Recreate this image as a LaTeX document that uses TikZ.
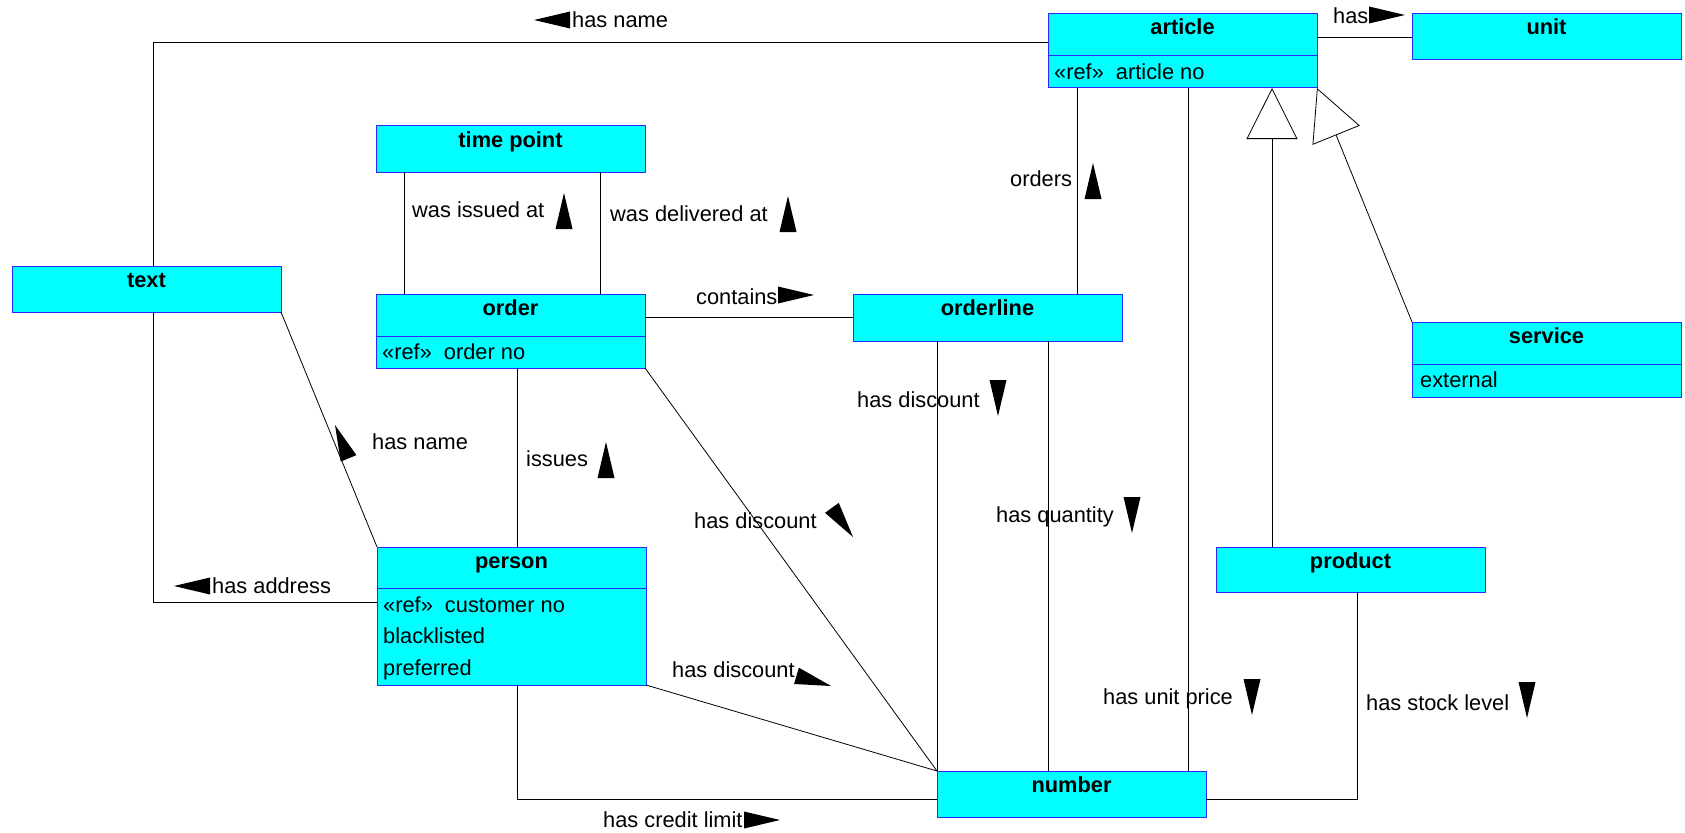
\documentclass[tikz,border=0pt]{standalone}
\usepackage{fontspec}
\setmainfont{Liberation Sans}
\usetikzlibrary{arrows.meta,calc}
\definecolor{boxfill}{RGB}{0,255,255}
\definecolor{boxline}{RGB}{40,40,255}
\newcommand\labarrow[3]{\fill[black,shift={(#1,#2)},rotate=#3] (0,0) -- (-36,8.5) -- (-36,-8.5) -- cycle;}
\begin{document}
\begin{tikzpicture}[x=1pt,y=-1pt,
  font=\fontsize{21.8}{26}\selectfont,
  box/.style={draw=boxline, fill=boxfill, line width=1pt, minimum width=269pt, inner sep=0pt, outer sep=0pt, anchor=north west},
  ttl/.style={font=\fontsize{21.8}{26}\selectfont\bfseries, anchor=base, inner sep=0pt},
  attr/.style={anchor=base west, inner sep=0pt},
  lbl/.style={anchor=west, inner sep=0pt},
  conn/.style={line width=0.8pt, draw=black},
  gen/.style={conn, -{Triangle[open, length=51pt, width=51pt, line width=0.8pt]}}]
\useasboundingbox (0,0) rectangle (1685,832);
\fill[white] (0,0) rectangle (1685,832);

% classes
\node[box, minimum height=46pt] (text) at (12,266) {};
\node[ttl] (textT) at ([yshift=-21pt]text.north) {text};

\node[box, minimum height=46pt] (tp) at (376,126) {};
\node[ttl] (tpT) at ([yshift=-21pt]tp.north) {time point};

\node[box, minimum height=42pt] (orderH) at (376,294) {};
\node[ttl] (orderT) at ([yshift=-21pt]orderH.north) {order};
\node[box, minimum height=32pt] (orderA) at (orderH.south west) {};
\node[attr] (orderA1) at ([xshift=6pt,yshift=-23.5pt]orderA.north west) {«ref»\ \ order no};

\node[box, minimum height=41pt] (personH) at (377,547) {};
\node[ttl] (personT) at ([yshift=-21pt]personH.north) {person};
\node[box, minimum height=97pt] (personA) at (personH.south west) {};
\node[attr] (personA1) at ([xshift=6pt,yshift=-24pt]personA.north west) {«ref»\ \ customer no};
\node[attr] (personA2) at ([xshift=6pt,yshift=-55.5pt]personA.north west) {blacklisted};
\node[attr] (personA3) at ([xshift=6pt,yshift=-87pt]personA.north west) {preferred};

\node[box, minimum height=42pt] (articleH) at (1048,14) {};
\node[ttl] (articleT) at ([yshift=-21pt]articleH.north) {article};
\node[box, minimum height=32pt] (articleA) at (articleH.south west) {};
\node[attr] (articleA1) at ([xshift=6pt,yshift=-24pt]articleA.north west) {«ref»\ \ article no};

\node[box, minimum height=46pt] (unit) at (1412,14) {};
\node[ttl] (unitT) at ([yshift=-21pt]unit.north) {unit};

\node[box, minimum height=42pt] (serviceH) at (1412,322) {};
\node[ttl] (serviceT) at ([yshift=-21pt]serviceH.north) {service};
\node[box, minimum height=33pt] (serviceA) at (serviceH.south west) {};
\node[attr] (serviceA1) at ([xshift=8pt,yshift=-23pt]serviceA.north west) {external};

\node[box, minimum height=47pt] (orderline) at (853,294) {};
\node[ttl] (orderlineT) at ([yshift=-21pt]orderline.north) {orderline};

\node[box, minimum height=45pt] (product) at (1216,547) {};
\node[ttl] (productT) at ([yshift=-21pt]product.north) {product};

\node[box, minimum height=46pt] (number) at (937,771) {};
\node[ttl] (numberT) at ([yshift=-21pt]number.north) {number};

% connectors
\coordinate (c5) at ([xshift=6.5pt]text.north);
\draw[conn] (c5) |- ([yshift=-7pt]articleH.west);
\coordinate (c6) at ([xshift=6.5pt]text.south);
\draw[conn] (c6) |- ([yshift=-14pt]personA.north west);
\draw[conn] (text.south east) -- (personH.north west);

\coordinate (c1) at ([xshift=28pt]tp.south west);
\draw[conn] (c1) -- (c1 |- orderH.north);
\coordinate (c2) at ([xshift=-45pt]tp.south east);
\draw[conn] (c2) -- (c2 |- orderH.north);

\coordinate (c3) at ([yshift=-2pt]orderH.east);
\draw[conn] (c3) -- (c3 -| orderline.west);

\coordinate (c4) at ([xshift=6.5pt]orderA.south);
\draw[conn] (c4) -- (c4 |- personH.north);

\draw[conn] (orderA.south east) -- (number.north west);
\draw[conn] (personA.south east) -- (number.north west);

\coordinate (c7) at ([xshift=6pt]personA.south);
\draw[conn] (c7) |- ([yshift=-5pt]number.west);

\draw[conn] (orderline.south -| number.west) -- (number.north west);
\coordinate (c8) at ([xshift=111pt]number.north west);
\draw[conn] (c8) -- (c8 |- orderline.south);

\coordinate (c9) at ([xshift=29pt]articleA.south west);
\draw[conn] (c9) -- (c9 |- orderline.north);
\coordinate (c10) at ([xshift=140pt]articleA.south west);
\draw[conn] (c10) -- (c10 |- number.north);
\coordinate (c11) at ([yshift=-2pt]articleH.east);
\draw[conn] (c11) -- (c11 -| unit.west);

\coordinate (c12) at ([xshift=56pt]product.north west);
\draw[gen] (c12) -- (c12 |- articleA.south);
\draw[gen] (serviceH.north west) -- (articleA.south east);

\coordinate (c13) at ([xshift=141pt]product.south west);
\draw[conn] (c13) |- ([yshift=-5pt]number.east);

% labels
\node[lbl] (l1) at (572,20) {has name};
\labarrow{534}{20}{180}
\node[lbl] (l2) at (1333,16) {has};
\labarrow{1405}{15}{0}
\node[lbl] (l3) at (696,297) {contains};
\labarrow{814}{295}{0}
\node[lbl] (l4) at (212,586) {has address};
\labarrow{174}{586}{180}
\node[lbl] (l5) at (603,820) {has credit limit};
\labarrow{780}{820}{0}
\node[lbl] (l6) at (412,210) {was issued at};
\labarrow{564}{193}{90}
\node[lbl] (l7) at (610,214) {was delivered at};
\labarrow{788}{196}{90}
\node[lbl] (l8) at (526,459) {issues};
\labarrow{606}{442}{90}
\node[lbl] (l9) at (1010,179) {orders};
\labarrow{1093}{163}{90}
\node[lbl] (l10) at (857,400) {has discount};
\labarrow{998}{416}{-90}
\node[lbl] (l11) at (996,517) {has quantity};
\labarrow{1132}{533}{-90}
\node[lbl] (l12) at (1103,699) {has unit price};
\labarrow{1252}{715}{-90}
\node[lbl] (l13) at (1366,703) {has stock level};
\labarrow{1527}{718}{-90}
\node[lbl] (l14) at (372,442) {has name};
\labarrow{335}{425}{112.1}
\node[lbl] (l15) at (694,521) {has discount};
\labarrow{853}{537}{-54.1}
\node[lbl] (l16) at (672,670) {has discount};
\labarrow{831}{686}{-16.4}
\end{tikzpicture}
\end{document}
